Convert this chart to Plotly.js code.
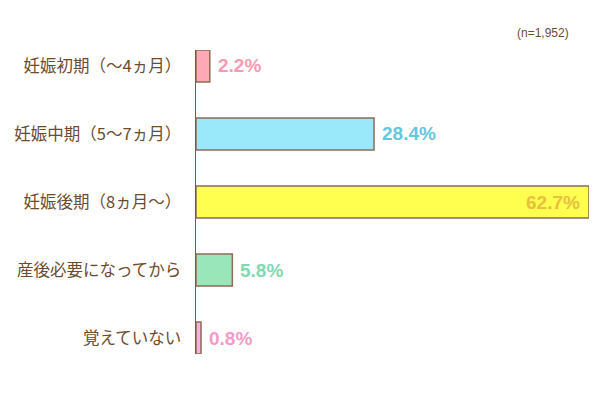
<!DOCTYPE html>
<html><head><meta charset="utf-8">
<script src="https://cdn.plot.ly/plotly-3.0.1.min.js"></script>
<style>html,body{margin:0;padding:0;background:#fff}</style>
</head><body><div id="chart" style="width:600px;height:417px"></div>
<script>
const categories = ["妊娠初期（〜4ヵ月）","妊娠中期（5〜7ヵ月）","妊娠後期（8ヵ月〜）","産後必要になってから","覚えていない"];
const values = [2.2, 28.4, 62.7, 5.8, 0.8];
const barColors = ["#ffa9b6","#9ae9fb","#ffff4f","#99e6bb","#f5b2da"];
const textColors = ["#f99bb0","#66c6dc","#e8c03c","#80d8b0","#f39ac8"];
const note = "(n=1,952)";

const labels = values.map(v => v.toFixed(1) + "%");

const trace = {
  type: "bar", orientation: "h",
  y: categories, x: values,
  width: 0.47,
  marker: {color: barColors, line: {color: "#8c6c58", width: 1.5}},
  hoverinfo: "none"
};
const valueAnns = values.map((v, i) => {
  const inside = v > 50;
  return {
    x: v, y: categories[i], xref: "x", yref: "y",
    text: labels[i], showarrow: false,
    xanchor: inside ? "right" : "left", yanchor: "middle",
    xshift: inside ? -7 : 6,
    font: {family: "Arial, Liberation Sans, sans-serif", size: 19, color: textColors[i], weight: "bold"}
  };
});
const layout = {
  width: 600, height: 417,
  margin: {l: 196, r: 11, t: 50, b: 63},
  paper_bgcolor: "#fff", plot_bgcolor: "#fff",
  showlegend: false,
  xaxis: {range: [0, 62.7], visible: false, fixedrange: true},
  yaxis: {autorange: false, range: [4.235, -0.235], showline: true, linecolor: "#7a5a40", linewidth: 1.5,
          ticks: "", showgrid: false, zeroline: false, ticklabelstandoff: 10,
          tickfont: {family: "Noto Sans CJK JP", size: 16.5, color: "#6b4c30"}},
  annotations: valueAnns.concat([{text: note, xref: "paper", yref: "paper", x: 1 - (600-571-11)/393, y: 1 + 17/304, xanchor: "right", yanchor: "middle",
    showarrow: false, font: {family: "Arial, Liberation Sans, sans-serif", size: 12, color: "#6b4c30"}}])
};
Plotly.newPlot("chart", [trace], layout, {displayModeBar: false, staticPlot: true});
</script></body></html>
